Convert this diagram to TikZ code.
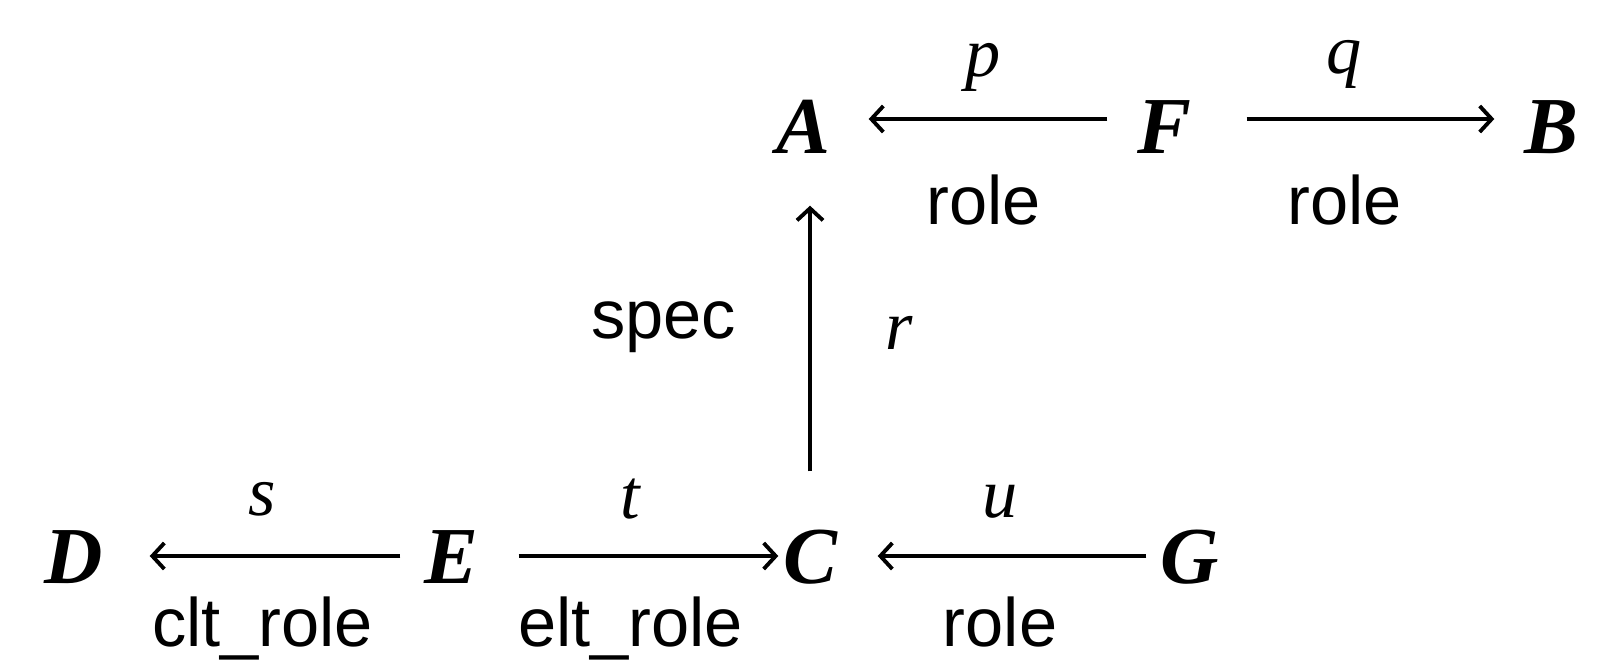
\documentclass[tikz,border=0pt]{standalone}
\usepackage{fontspec}
\setmainfont{Liberation Serif}
\setsansfont{Liberation Sans}
\usetikzlibrary{arrows.meta}
\tikzset{
  obj/.style={
    font=\fontsize{23}{27}\selectfont\bfseries\itshape,
    inner sep=0pt, minimum width=1.0cm,
    text height=5.4mm, text depth=0pt
  },
  var/.style={font=\fontsize{20}{24}\selectfont\itshape, inner sep=0pt},
  kind/.style={
    font=\fontsize{19.5}{23}\selectfont\sffamily, inner sep=0pt,
    text height=5.2mm, text depth=1.2mm
  },
  arr/.style={-{Straight Barb[length=1.2mm, width=2.6mm]}, line width=1.1pt,
    shorten >=1.5mm},
}

\begin{document}
\begin{tikzpicture}

  \useasboundingbox (0,0) rectangle (16.08,6.60);

  %% ── Objects ────────────────────────────────────────────────────────────────

  \node[obj] (A) at ( 8.03, 5.34) {A};
  \node[obj] (F) at (11.64, 5.34) {F};
  \node[obj] (B) at (15.51, 5.34) {B};

  \node[obj] (D) at ( 0.74, 1.04) {D};
  \node[obj] (E) at ( 4.51, 1.04) {E};
  \node[obj] (C) at ( 8.10, 1.04) {C};
  \node[obj] (G) at (11.90, 1.04) {G};

  %% ── Top row ────────────────────────────────────────────────────────────────

  \draw[arr, shorten <=0.6mm]
    ([yshift=0.7mm]F.west) -- ([yshift=0.7mm]A.east)
    node[var, midway, yshift=5.2mm] (p) {p}
    node[kind, midway, yshift=-8.5mm] (roleAF) {role};

  \draw[arr, shorten <=3.2mm, shorten >=0.6mm]
    ([yshift=0.7mm]F.east) -- ([yshift=0.7mm]B.west)
    node[var, midway, xshift=-1.3mm, yshift=5.5mm] (q) {q}
    node[kind, midway, xshift=-1.3mm, yshift=-8.5mm] (roleFB) {role};

  %% ── Specialisation ─────────────────────────────────────────────────────────

  \draw[arr, shorten <=5.7mm, shorten >=5.2mm]
    (C.north) -- (C.north |- A.south)
    node[kind, midway, anchor=east, xshift=-7.2mm, yshift=2.3mm] (spec) {spec}
    node[var, midway, xshift=8.9mm, yshift=0.8mm] (r) {r};

  %% ── Bottom row ─────────────────────────────────────────────────────────────

  \draw[arr, shorten >=2.5mm]
    (E.west) -- (D.east)
    node[var, midway, yshift=5.7mm] (s) {s}
    node[kind, midway, yshift=-7mm] (cltrole) {clt\_role};

  \draw[arr, shorten <=1.7mm, shorten >=-1.9mm]
    (E.east) -- (C.west)
    node[var, midway, yshift=5.7mm] (t) {t}
    node[kind, midway, yshift=-7mm] (eltrole) {elt\_role};

  \draw[arr, shorten <=-0.7mm, shorten >=1.7mm]
    (G.west) -- (C.east)
    node[var, midway, yshift=5.4mm] (u) {u}
    node[kind, midway, yshift=-7mm] (roleGC) {role};

\end{tikzpicture}
\end{document}
